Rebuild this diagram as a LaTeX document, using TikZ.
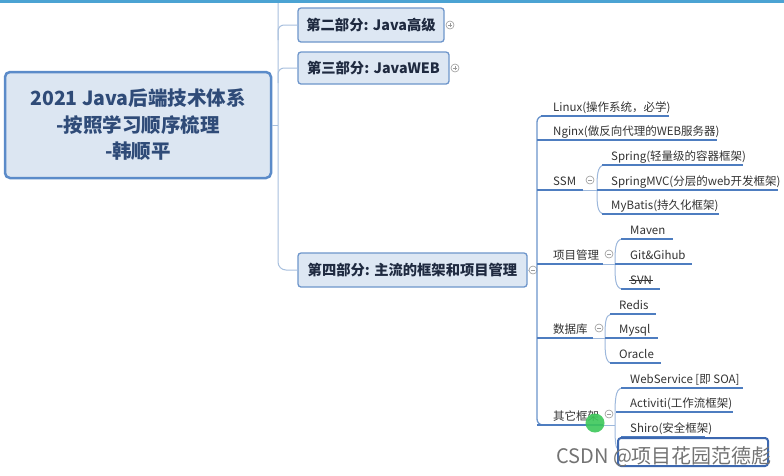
\documentclass[tikz,border=0pt]{standalone}
\usepackage{fontspec}
\setmainfont{Noto Sans CJK SC}
\definecolor{rootb}{HTML}{5B8BC9}
\definecolor{rootf}{HTML}{DCE6F2}
\definecolor{roott}{HTML}{2F4B78}
\definecolor{boxb}{HTML}{6E96CB}
\definecolor{boxf}{HTML}{DDE7F3}
\definecolor{boxt}{HTML}{1F2A40}
\definecolor{connc}{HTML}{A8C0DE}
\definecolor{vlc}{HTML}{6B94CC}
\definecolor{ulblue}{HTML}{4E7DC0}
\definecolor{brc}{HTML}{9DB8DC}
\definecolor{leafc}{HTML}{333333}
\definecolor{togc}{HTML}{9A9A9A}
\definecolor{topc}{HTML}{4BA3D3}
\definecolor{lastb}{HTML}{3D68B0}
\definecolor{cursorg}{HTML}{3CC85A}
\begin{document}
\begin{tikzpicture}[x=1pt,y=-1pt,
  conn/.style={draw=connc, line width=1pt},
  vline/.style={draw=vlc, line width=1.3pt},
  ul/.style={draw=ulblue, line width=2.6pt},
  br/.style={draw=brc, line width=1pt},
  leaf/.style={anchor=base west, inner sep=0pt, font=\fontsize{11.5}{13}\selectfont, text=leafc},
  partbox/.style={draw=boxb, line width=1.3pt, fill=boxf, rounded corners=3pt,
    font=\fontsize{14.3}{16}\selectfont\bfseries, text=boxt, inner sep=0pt},
  tog/.style={circle, draw=togc, line width=0.6pt, fill=white, minimum size=8pt, inner sep=0pt},
  togplus/.style={tog, path picture={\draw[togc, line width=0.6pt]
    ([xshift=-2pt]path picture bounding box.center) -- ([xshift=2pt]path picture bounding box.center)
    ([yshift=-2pt]path picture bounding box.center) -- ([yshift=2pt]path picture bounding box.center);}},
  togminus/.style={tog, path picture={\draw[togc, line width=0.6pt]
    ([xshift=-2pt]path picture bounding box.center) -- ([xshift=2pt]path picture bounding box.center);}},
]
\useasboundingbox (0,0) rectangle (784,475);
\fill[white] (0,0) rectangle (784,475);
\fill[topc] (0,0) rectangle (784,3);

% root
\node[draw=rootb, line width=2.5pt, fill=rootf, rounded corners=5pt,
  minimum width=266pt, minimum height=106pt, align=center,
  font=\fontsize{19.5}{26.5}\selectfont\bfseries, text=roott, inner sep=0pt]
  (root) at (138,125) {2021 Java后端技术体系\\-按照学习顺序梳理\\-韩顺平};

% parts
\node[partbox, minimum width=146pt, minimum height=34pt] (p2) at (371,25) {第二部分: Java高级};
\node[partbox, minimum width=151pt, minimum height=32pt] (p3) at (373.5,68) {第三部分: JavaWEB};
\node[partbox, minimum width=229pt, minimum height=34pt] (p4) at (412.5,270) {第四部分: 主流的框架和项目管理};

\coordinate (trunk) at (278,125);
\draw[conn] (root.east) -- (trunk);
\draw[conn, rounded corners=8pt] (278,3) -- (278,270) -- (p4.west);
\draw[conn, rounded corners=6pt] (278,40) -- (278,25) -- (p2.west);
\draw[conn, rounded corners=6pt] (278,83) -- (278,68) -- (p3.west);

\node[togplus] (t2) at (450,25) {};
\node[togplus] (t3) at (455,68) {};
\node[togminus] (t4) at (533,270) {};
\draw[conn] (p4.east) -- (t4.west);

% main vertical
\draw[vline, rounded corners=6pt] (547,116) -- (537,116) -- (537,425) -- (547,425);

% Linux / Nginx
\node[leaf] (linux) at (553,111) {Linux(操作系统，必学)};
\draw[ul] (541,116) -- (669,116);
\node[leaf] (nginx) at (553,135) {Nginx(做反向代理的WEB服务器)};
\draw[ul] (537,140) -- (717,140);

% SSM
\node[leaf] (ssm) at (553,185) {SSM};
\draw[ul] (537,190) -- (583,190);
\node[togminus] (tssm) at (590,180) {};
\draw[br] (583,190) -- (597,190);
\draw[br] (604,165) .. controls (597,166) and (597,176) .. (597,190) .. controls (597,204) and (597,213) .. (604,214);
\node[leaf] (spring) at (611,160) {Spring(轻量级的容器框架)};
\draw[ul] (602,165) -- (743,165);
\node[leaf] (mvc) at (611,185) {SpringMVC(分层的web开发框架)};
\draw[ul] (597,190) -- (778,190);
\node[leaf] (mybatis) at (611,209) {MyBatis(持久化框架)};
\draw[ul] (602,214) -- (719,214);

% 项目管理
\node[leaf] (xm) at (553,259) {项目管理};
\draw[ul] (537,264) -- (603,264);
\node[togminus] (txm) at (609,254) {};
\draw[br] (603,264) -- (615,264);
\draw[br] (622,239) .. controls (615,240) and (615,250) .. (615,264) .. controls (615,278) and (615,288) .. (622,289);
\node[leaf] (maven) at (630,234) {Maven};
\draw[ul] (621,239) -- (673,239);
\node[leaf] (git) at (630,259) {Git\&Gihub};
\draw[ul] (615,264) -- (692,264);
\node[leaf] (svn) at (630,284) {SVN};
\draw[ul] (621,289) -- (660,289);
\draw[leafc, line width=0.7pt] (629,280) -- (653,280);

% 数据库
\node[leaf] (db) at (553,333) {数据库};
\draw[ul] (537,338) -- (593,338);
\node[togminus] (tdb) at (599,328) {};
\draw[br] (593,338) -- (605,338);
\draw[br] (611,314) .. controls (605,315) and (605,325) .. (605,338) .. controls (605,351) and (605,362) .. (611,363);
\node[leaf] (redis) at (619,309) {Redis};
\draw[ul] (610,314) -- (656,314);
\node[leaf] (mysql) at (619,333) {Mysql};
\draw[ul] (605,338) -- (658,338);
\node[leaf] (oracle) at (619,358) {Oracle};
\draw[ul] (610,363) -- (661,363);

% 其它框架
\node[leaf] (qt) at (553,420) {其它框架};
\draw[ul] (537,425) -- (603,425);
\node[togminus] (tqt) at (609,414) {};
\draw[br] (603,425) -- (615,425);
\draw[br] (622,388) .. controls (615,389) and (615,400) .. (615,420) .. controls (615,440) and (615,449) .. (619,450);
\node[leaf] (ws) at (630,383) {WebService [即 SOA]};
\draw[ul] (621,388) -- (743,388);
\node[leaf] (act) at (630,407) {Activiti(工作流框架)};
\draw[ul] (616,412) -- (733,412);
\node[leaf] (shiro) at (630,432) {Shiro(安全框架)};
\draw[ul] (621,437) -- (705,437);
\node[draw=lastb, line width=2pt, fill=white, rounded corners=3pt,
  minimum width=150pt, minimum height=28pt, inner sep=0pt] (last) at (693,452) {};

% cursor highlight
\fill[cursorg, opacity=0.9] (595,423) circle (9.5);

% watermark
\node[anchor=base west, inner sep=0pt, font=\fontsize{20}{22}\selectfont, text=black!55] (wm) at (556,463) {CSDN @项目花园范德彪};
\end{tikzpicture}
\end{document}
